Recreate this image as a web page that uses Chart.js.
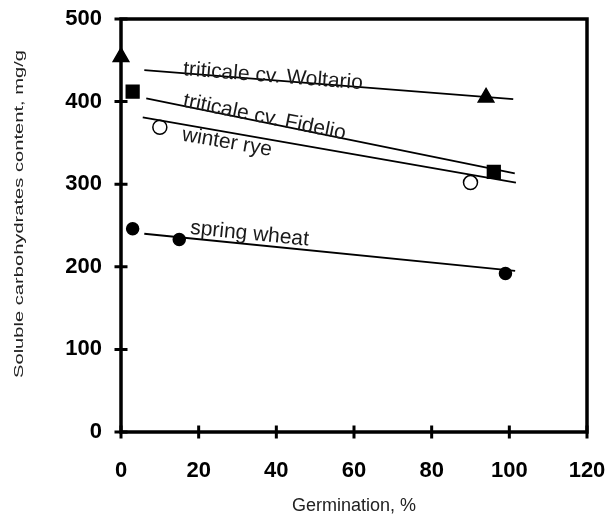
<!DOCTYPE html>
<html>
<head>
<meta charset="utf-8">
<script src="https://cdn.jsdelivr.net/npm/chart.js@4"></script>
<style>
  html, body { margin: 0; padding: 0; background: #fff; }
</style>
</head>
<body>
<canvas id="chart" width="608" height="514"></canvas>
<script>
const xTicks = [0, 20, 40, 60, 80, 100, 120];
const yTicks = [0, 100, 200, 300, 400, 500];

// measured points
const woltarioX = [0, 94];
const woltarioY = [454, 405];
const fidelioX = [3, 96];
const fidelioY = [412, 315];
const ryeX = [10, 90];
const ryeY = [369, 302];
const wheatX = [3, 15, 99];
const wheatY = [246, 233, 192];

// fitted lines, ends as drawn in the figure
const woltarioFitX = [6, 101];
const woltarioFitY = [438, 403];
const fidelioFitX = [6.5, 101.4];
const fidelioFitY = [404, 313];
const ryeFitX = [5.6, 101.7];
const ryeFitY = [381, 302];
const wheatFitX = [6, 101.5];
const wheatFitY = [240, 195];

// labels written along the lines (start of baseline, in data units)
const labelNames = ["triticale cv. Woltario", "triticale cv. Fidelio", "winter rye", "spring wheat"];
const labelX = [15.9, 15.8, 15.5, 17.7];
const labelY = [432, 394, 353, 240];
const labelFitX = [woltarioFitX, fidelioFitX, ryeFitX, wheatFitX];
const labelFitY = [woltarioFitY, fidelioFitY, ryeFitY, wheatFitY];

const yTitle = "Soluble carbohydrates content, mg/g";

const FONT = "'Liberation Sans', Arial, sans-serif";

const toPoints = (xs, ys) => xs.map((x, i) => ({ x: x, y: ys[i] }));

const markerSet = (xs, ys, style, radius, fill) => ({
  data: toPoints(xs, ys),
  showLine: false,
  clip: false,
  pointStyle: style,
  pointRadius: radius,
  pointBackgroundColor: fill,
  pointBorderColor: "#000",
  pointBorderWidth: 1.5,
});

const fitSet = (xs, ys) => ({
  data: toPoints(xs, ys),
  showLine: true,
  borderColor: "#000",
  borderWidth: 1.8,
  pointRadius: 0,
});

// box round the plot, ticks crossing the axes, y title (stretched like the original)
const framePlugin = {
  id: "frame",
  beforeDatasetsDraw(chart) {
    const { ctx, chartArea: a, scales } = chart;
    ctx.save();
    ctx.strokeStyle = "#000";
    ctx.lineWidth = 3.5;
    ctx.strokeRect(a.left, a.top, a.right - a.left, a.bottom - a.top);
    ctx.lineWidth = 3;
    ctx.beginPath();
    xTicks.forEach(v => {
      const px = scales.x.getPixelForValue(v);
      ctx.moveTo(px, a.bottom - 6.5);
      ctx.lineTo(px, a.bottom + 6.5);
    });
    yTicks.forEach(v => {
      const py = scales.y.getPixelForValue(v);
      ctx.moveTo(a.left - 6.5, py);
      ctx.lineTo(a.left + 6.5, py);
    });
    ctx.stroke();

    ctx.fillStyle = "#222";
    ctx.font = "13px " + FONT;
    ctx.textAlign = "center";
    ctx.textBaseline = "alphabetic";
    const w = ctx.measureText(yTitle).width;
    ctx.translate(22.5, (a.top + a.bottom) / 2 - 11.5);
    ctx.rotate(-Math.PI / 2);
    ctx.scale(328 / w, 1);
    ctx.fillText(yTitle, 0, 0);
    ctx.restore();
  },
};

const labelPlugin = {
  id: "lineLabels",
  afterDatasetsDraw(chart) {
    const { ctx, scales } = chart;
    ctx.save();
    ctx.fillStyle = "#1a1a1a";
    ctx.font = "21px " + FONT;
    ctx.textAlign = "left";
    ctx.textBaseline = "alphabetic";
    labelNames.forEach((name, i) => {
      const fx = labelFitX[i];
      const fy = labelFitY[i];
      const dx = scales.x.getPixelForValue(fx[1]) - scales.x.getPixelForValue(fx[0]);
      const dy = scales.y.getPixelForValue(fy[1]) - scales.y.getPixelForValue(fy[0]);
      ctx.save();
      ctx.translate(scales.x.getPixelForValue(labelX[i]), scales.y.getPixelForValue(labelY[i]));
      ctx.rotate(Math.atan2(dy, dx));
      ctx.fillText(name, 0, 0);
      ctx.restore();
    });
    ctx.restore();
  },
};

new Chart(document.getElementById("chart").getContext("2d"), {
  type: "scatter",
  data: {
    datasets: [
      fitSet(woltarioFitX, woltarioFitY),
      fitSet(fidelioFitX, fidelioFitY),
      fitSet(ryeFitX, ryeFitY),
      fitSet(wheatFitX, wheatFitY),
      markerSet(woltarioX, woltarioY, "triangle", 9, "#000"),
      markerSet(fidelioX, fidelioY, "rect", 9, "#000"),
      markerSet(ryeX, ryeY, "circle", 7, "#fff"),
      markerSet(wheatX, wheatY, "circle", 6, "#000"),
    ],
  },
  options: {
    responsive: false,
    animation: false,
    layout: { padding: { left: 9, top: 19, right: 21, bottom: 0 } },
    plugins: { legend: { display: false }, tooltip: { enabled: false } },
    scales: {
      x: {
        type: "linear",
        min: 0,
        max: 120,
        afterBuildTicks: scale => { scale.ticks = xTicks.map(v => ({ value: v })); },
        afterFit: scale => {
          scale.height = 82;
          scale.paddingLeft = 0;
          scale.paddingRight = 0;
        },
        grid: { display: false, drawTicks: false },
        border: { display: false },
        ticks: {
          padding: 26,
          color: "#000",
          font: { family: FONT, size: 22, weight: "bold" },
        },
        title: {
          display: true,
          text: "Germination, %",
          color: "#222",
          padding: { top: 0, bottom: -3 },
          font: { family: FONT, size: 18 },
        },
      },
      y: {
        type: "linear",
        min: 0,
        max: 500,
        afterBuildTicks: scale => { scale.ticks = yTicks.map(v => ({ value: v })); },
        afterFit: scale => {
          scale.width = 112;
          scale.paddingTop = 0;
          scale.paddingBottom = 0;
        },
        grid: { display: false, drawTicks: false },
        border: { display: false },
        ticks: {
          padding: 19,
          color: "#000",
          font: { family: FONT, size: 22, weight: "bold" },
        },
        title: { display: false },
      },
    },
  },
  plugins: [framePlugin, labelPlugin],
});
</script>
</body>
</html>
